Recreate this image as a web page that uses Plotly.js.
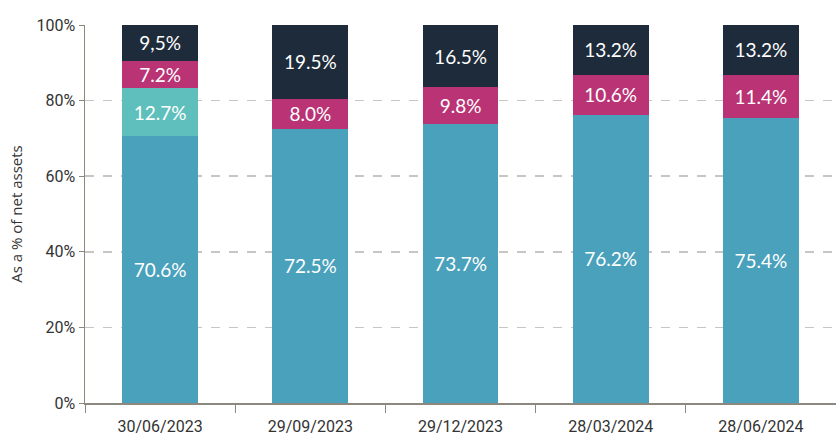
<!DOCTYPE html>
<html>
<head>
<meta charset="utf-8">
<script src="https://cdn.plot.ly/plotly-3.0.1.min.js"></script>
<style>html,body{margin:0;padding:0;background:#fff;}#chart{width:836px;height:445px;}</style>
</head>
<body>
<div id="chart"></div>
<script>
const categories = ["30/06/2023", "29/09/2023", "29/12/2023", "28/03/2024", "28/06/2024"];
const blueValues = [70.6, 72.5, 73.7, 76.2, 75.4];
const tealValues = [12.7, 0, 0, 0, 0];
const magentaValues = [7.2, 8.0, 9.8, 10.6, 11.4];
const navyValues = [9.5, 19.5, 16.5, 13.2, 13.2];
const blueLabels = ["70.6%", "72.5%", "73.7%", "76.2%", "75.4%"];
const tealLabels = ["12.7%", "", "", "", ""];
const magentaLabels = ["7.2%", "8.0%", "9.8%", "10.6%", "11.4%"];
const navyLabels = ["9,5%", "19.5%", "16.5%", "13.2%", "13.2%"];
const yTickVals = [0, 20, 40, 60, 80, 100];
const yTickText = ["0%", "20%", "40%", "60%", "80%", "100%"];

function series(vals, labels, color) {
  return {
    type: "bar", x: categories, y: vals, text: labels,
    textposition: "inside", insidetextanchor: "middle",
    constraintext: "none",
    textfont: {family: "Lato, 'Open Sans', sans-serif", size: 19, color: "#ffffff"},
    marker: {color: color, line: {width: 0}},
    hoverinfo: "none", showlegend: false
  };
}

const data = [
  series(blueValues, blueLabels, "#4aa1bc"),
  series(tealValues, tealLabels, "#5fbfbc"),
  series(magentaValues, magentaLabels, "#b93375"),
  series(navyValues, navyLabels, "#1e2b3a")
];

const layout = {
  width: 836, height: 445,
  margin: {l: 85, r: 0, t: 25, b: 42},
  barmode: "stack", bargap: 0.495,
  paper_bgcolor: "#fff", plot_bgcolor: "#fff",
  font: {family: "Roboto, sans-serif", color: "#333"},
  xaxis: {
    type: "category", tickson: "boundaries", ticks: "outside", ticklen: 8, tickcolor: "#8c877f",
    showline: true, linecolor: "#8c877f", linewidth: 1.5, showgrid: false,
    ticklabelstandoff: 8,
    tickfont: {family: "Roboto, sans-serif", size: 16, color: "#333"}, fixedrange: true
  },
  yaxis: {
    range: [0, 100], tickvals: yTickVals, ticktext: yTickText,
    ticks: "outside", ticklen: 5, tickcolor: "#8c877f",
    showline: true, linecolor: "#8c877f", linewidth: 1.5,
    showgrid: true, gridcolor: "#c8c6c2", griddash: "dash", gridwidth: 1.5,
    zeroline: false,
    tickfont: {family: "Roboto, sans-serif", size: 16, color: "#333"},
    title: {text: "As a % of net assets", font: {family: "'Open Sans', sans-serif", size: 15, color: "#333"}, standoff: 10},
    fixedrange: true
  }
};

Plotly.newPlot("chart", data, layout, {displayModeBar: false, staticPlot: true});
</script>
</body>
</html>
